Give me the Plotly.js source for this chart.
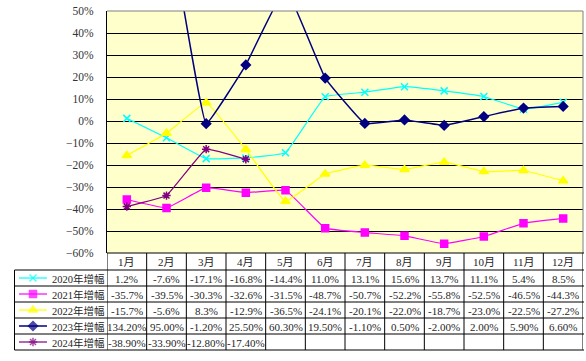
<!DOCTYPE html>
<html>
<head>
<meta charset="utf-8">
<script src="https://cdn.plot.ly/plotly-3.0.1.min.js"></script>
<style>html,body{margin:0;padding:0;background:#fff;}#chart{width:586px;height:361px;}</style>
</head>
<body>
<div id="chart"></div>
<script>
// ---- data ----
const months = ['1月','2月','3月','4月','5月','6月','7月','8月','9月','10月','11月','12月'];
const seriesNames = ['2020年增幅','2021年增幅','2022年增幅','2023年增幅','2024年增幅'];
const v2020 = [1.2, -7.6, -17.1, -16.8, -14.4, 11.0, 13.1, 15.6, 13.7, 11.1, 5.4, 8.5];
const v2021 = [-35.7, -39.5, -30.3, -32.6, -31.5, -48.7, -50.7, -52.2, -55.8, -52.5, -46.5, -44.3];
const v2022 = [-15.7, -5.6, 8.3, -12.9, -36.5, -24.1, -20.1, -22.0, -18.7, -23.0, -22.5, -27.2];
const v2023 = [134.2, 95.0, -1.2, 25.5, 60.3, 19.5, -1.1, 0.5, -2.0, 2.0, 5.9, 6.6];
const v2024 = [-38.9, -33.9, -12.8, -17.4];
const decimals = [1, 1, 1, 2, 2];
const yTicks = [50, 40, 30, 20, 10, 0, -10, -20, -30, -40, -50, -60];
const yTickText = ['50%', '40%', '30%', '20%', '10%', '0%', '−10%', '−20%', '−30%', '−40%', '−50%', '−60%'];

// ---- styles ----
const values = [v2020, v2021, v2022, v2023, v2024];
const colors = ['#00FFFF', '#FF00FF', '#FFFF00', '#000080', '#800080'];
const symbols = ['x-thin-open', 'square', 'triangle-up', 'diamond', 'asterisk-open'];
const msize = [7, 7, 8, 7, 7];
const lw = [1.2, 1.2, 1.2, 1.5, 1.2];
const FONT = 'Liberation Serif, "Noto Sans CJK SC", serif';
const TXT = '#262626';

const W = 586, H = 361;
const PL = 107, PR = 583, PT = 11, PB = 253;
const rowLines = [270, 286, 302, 318, 334, 350];
const tableLeft = 14.5;

const traces = [];
values.forEach((vals, i) => {
  traces.push({
    type: 'scatter', mode: 'lines+markers', name: seriesNames[i],
    x: months.slice(0, vals.length), y: vals,
    line: {color: colors[i], width: lw[i], shape: 'spline', smoothing: 0.25},
    marker: {symbol: symbols[i], size: msize[i], color: colors[i], line: {color: colors[i], width: 1.5}},
    xaxis: 'x', yaxis: 'y', hoverinfo: 'skip'
  });
  const yc = (rowLines[i] + rowLines[i + 1]) / 2;
  traces.push({
    type: 'scatter', mode: 'lines+markers',
    x: [19, 33, 47], y: [yc, yc, yc],
    line: {color: colors[i], width: lw[i]},
    marker: {symbol: symbols[i], size: [0, msize[i], 0], color: colors[i], line: {color: colors[i], width: 1.5}},
    xaxis: 'x2', yaxis: 'y2', hoverinfo: 'skip', cliponaxis: false
  });
});

const shapes = [];
shapes.push({type: 'rect', xref: 'x domain', yref: 'y domain', x0: 0, x1: 1, y0: 0, y1: 1,
  fillcolor: '#FFFFCC', line: {width: 0}, layer: 'below'});
shapes.push({type: 'line', xref: 'x2', yref: 'y2', x0: PL, x1: PR, y0: PT, y1: PT, line: {color: '#808080', width: 1}});
shapes.push({type: 'line', xref: 'x2', yref: 'y2', x0: PR, x1: PR, y0: PT, y1: PB, line: {color: '#808080', width: 1}});
shapes.push({type: 'line', xref: 'x2', yref: 'y2', x0: PL, x1: PR + 1, y0: PB, y1: PB, line: {color: '#000', width: 1}});
rowLines.forEach(y => shapes.push({type: 'line', xref: 'x2', yref: 'y2', x0: tableLeft, x1: PR + 1, y0: y, y1: y, line: {color: '#000', width: 1}}));
for (let k = 0; k <= months.length; k++) {
  shapes.push({type: 'line', xref: 'x', yref: 'y2', x0: k - 0.5, x1: k - 0.5, y0: PB, y1: rowLines[rowLines.length - 1], line: {color: '#000', width: 1}});
}
shapes.push({type: 'line', xref: 'x2', yref: 'y2', x0: tableLeft, x1: tableLeft, y0: rowLines[0], y1: rowLines[rowLines.length - 1], line: {color: '#000', width: 1}});

const annotations = [];
months.forEach(m => annotations.push({xref: 'x', yref: 'y2', x: m, y: (PB + rowLines[0]) / 2 + 0.5,
  text: m, showarrow: false, xanchor: 'center', yanchor: 'middle', font: {family: FONT, size: 11, color: TXT}}));
values.forEach((vals, i) => {
  const yc = (rowLines[i] + rowLines[i + 1]) / 2 + 0.5;
  annotations.push({xref: 'x2', yref: 'y2', x: 50, y: yc, text: seriesNames[i], showarrow: false,
    xanchor: 'left', yanchor: 'middle', font: {family: FONT, size: 10.5, color: TXT}});
  vals.forEach((v, j) => annotations.push({xref: 'x', yref: 'y2', x: months[j], y: yc,
    text: v.toFixed(decimals[i]) + '%', showarrow: false, xanchor: 'center', yanchor: 'middle',
    font: {family: FONT, size: 11, color: TXT}}));
});

const layout = {
  width: W, height: H, margin: {l: 0, r: 0, t: 0, b: 0},
  paper_bgcolor: '#fff', plot_bgcolor: 'rgba(0,0,0,0)', showlegend: false,
  xaxis: {domain: [PL / W, PR / W], type: 'category', range: [-0.5, 11.5], showticklabels: false,
    showgrid: false, zeroline: false, showline: false, fixedrange: true},
  yaxis: {domain: [(H - PB) / H, (H - PT) / H], range: [-60, 50], tickmode: 'array', tickvals: yTicks, ticktext: yTickText,
    showgrid: true, gridcolor: '#000', gridwidth: 1, zeroline: true, zerolinecolor: '#000', zerolinewidth: 1,
    showline: true, linecolor: '#000', linewidth: 1, ticks: '', ticklabelstandoff: 10,
    tickfont: {family: FONT, size: 11.5, color: '#333'}, fixedrange: true},
  xaxis2: {domain: [0, 1], range: [0, W], visible: false, anchor: 'y2', fixedrange: true},
  yaxis2: {domain: [0, 1], range: [H, 0], visible: false, anchor: 'x2', fixedrange: true},
  shapes: shapes, annotations: annotations
};

Plotly.newPlot('chart', traces, layout, {staticPlot: true});
</script>
</body>
</html>
